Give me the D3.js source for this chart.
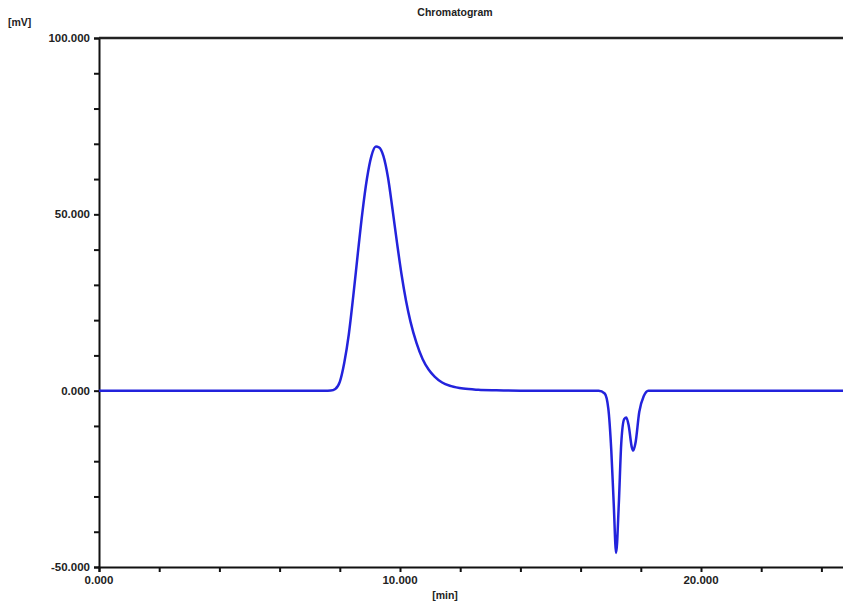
<!DOCTYPE html>
<html>
<head>
<meta charset="utf-8">
<script src="https://cdn.jsdelivr.net/npm/d3@7"></script>
<style>
  body { margin: 0; background: #fff; }
  svg { display: block; }
</style>
</head>
<body>
<svg id="chart"></svg>
<script>
/* data */
var timeMin = [0, 7.5, 7.7, 7.85, 8.0, 8.15, 8.3, 8.45, 8.6, 8.75, 8.9, 9.05, 9.2, 9.3, 9.45, 9.6, 9.75, 9.9, 10.05, 10.2, 10.35, 10.55, 10.75, 10.95, 11.15, 11.4, 11.7, 12.1, 12.6, 13.2, 14.0,
               16.6, 16.8, 16.92, 17.02, 17.1, 17.18, 17.27, 17.35, 17.45, 17.52, 17.6, 17.7, 17.75, 17.82, 17.95, 18.1, 18.25, 25];
var signalMV = [0, 0, 0.05, 0.5, 2.5, 8, 16, 27, 39, 50.5, 60, 66.5, 69.2, 69, 66.5, 60.5, 51.5, 42, 33, 25.5, 19.5, 13.5, 9, 6, 4, 2.3, 1.3, 0.6, 0.25, 0.1, 0,
                0, -0.8, -5, -17, -32, -46, -32, -15, -8, -7.6, -10, -16, -17, -15, -6, -1.5, 0, 0];
var yTickVals = [100, 50, 0, -50];
var yTickLabels = ["100.000", "50.000", "0.000", "-50.000"];
var xTickVals = [0, 10, 20];
var xTickLabels = ["0.000", "10.000", "20.000"];

var W = 843, H = 603;
var plotLeft = 99, plotTop = 38, plotBottom = 567;

var svg = d3.select('#chart').attr('width', W).attr('height', H);

var x = d3.scaleLinear().domain([0, 25]).range([plotLeft, plotLeft + 25 * 30.1]);
var y = d3.scaleLinear().domain([-50, 100]).range([plotBottom, plotTop]);

var pts = timeMin.map(function(t, i){ return [t, signalMV[i]]; });

/* axes */
var yAxis = d3.axisLeft(y).tickValues(d3.range(-50, 101, 10)).tickSize(5).tickFormat('');
var gy = svg.append('g').attr('transform', 'translate(' + plotLeft + ',0)').call(yAxis);
gy.select('.domain').attr('stroke', '#111').attr('stroke-width', 2);
gy.selectAll('.tick line').attr('stroke', '#111').attr('stroke-width', 2);

var xAxis = d3.axisBottom(x).tickValues(d3.range(0, 25, 2)).tickSize(5).tickFormat('');
var gx = svg.append('g').attr('transform', 'translate(0,' + plotBottom + ')').call(xAxis);
gx.select('.domain').attr('stroke', '#111').attr('stroke-width', 2);
gx.selectAll('.tick line').attr('stroke', '#111').attr('stroke-width', 2);

// top frame line
svg.append('line')
    .attr('x1', plotLeft).attr('x2', W)
    .attr('y1', plotTop).attr('y2', plotTop)
    .attr('stroke', '#222').attr('stroke-width', 2.5);

/* labels */
svg.append('g').selectAll('text.ylab')
    .data(yTickVals)
    .enter()
    .append('text')
    .attr('class', 'ylab')
    .attr('x', plotLeft - 9)
    .attr('y', d => y(d) + 4)
    .attr('text-anchor', 'end')
    .attr('font-family', 'Liberation Sans, Arial, sans-serif')
    .attr('font-weight', 'bold')
    .attr('font-size', '11.5px')
    .attr('fill', '#222')
    .text((d, i) => yTickLabels[i]);

svg.append('g').selectAll('text.xlab')
    .data(xTickVals)
    .enter()
    .append('text')
    .attr('class', 'xlab')
    .attr('x', d => x(d))
    .attr('y', plotBottom + 17)
    .attr('text-anchor', 'middle')
    .attr('font-family', 'Liberation Sans, Arial, sans-serif')
    .attr('font-weight', 'bold')
    .attr('font-size', '11.5px')
    .attr('fill', '#222')
    .text((d, i) => xTickLabels[i]);

var txt = function(s, tx, ty, anchor){
    svg.append('text')
        .attr('x', tx).attr('y', ty)
        .attr('text-anchor', anchor)
        .attr('font-family', 'Liberation Sans, Arial, sans-serif')
        .attr('font-weight', 'bold')
        .attr('font-size', '10.5px')
        .attr('fill', '#222')
        .text(s);
};
txt('Chromatogram', 455, 16, 'middle');
txt('[mV]', 8, 26, 'start');
txt('[min]', 445, 599, 'middle');

/* trace */
var line = d3.line()
    .x(d => x(d[0]))
    .y(d => y(d[1]))
    .curve(d3.curveMonotoneX);

svg.append('path')
    .datum(pts)
    .attr('d', line)
    .attr('fill', 'none')
    .attr('stroke', '#2323dc')
    .attr('stroke-width', 2.5);
</script>
</body>
</html>
